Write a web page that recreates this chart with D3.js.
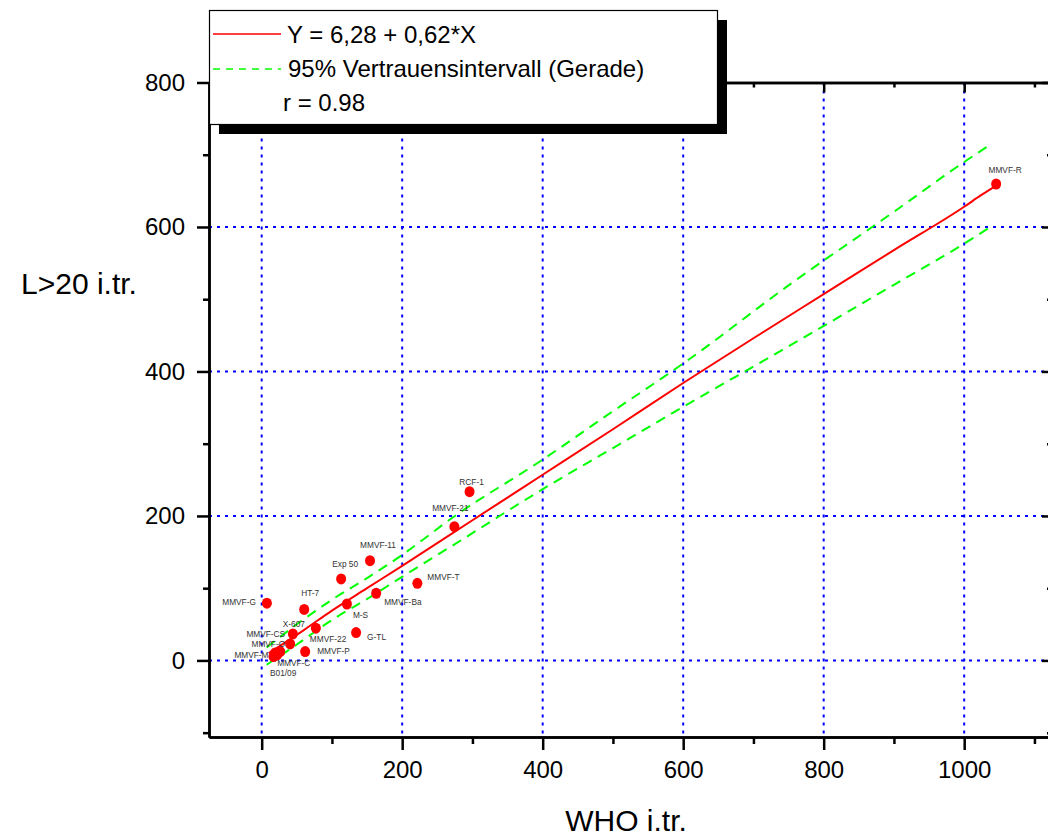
<!DOCTYPE html>
<meta charset="utf-8">
<script src="https://d3js.org/d3.v7.min.js"></script>
<style>
  body { margin: 0; background: #fff; }
  svg { font-family: "Liberation Sans", Arial, sans-serif; }
  .grid line { stroke: #0000ff; stroke-width: 2; stroke-dasharray: 3,5; }
  .axis path, .axis line { stroke: #000; stroke-width: 2.5; }
  .axis text { font-size: 24px; fill: #000; }
  .lbl { font-size: 8.3px; fill: #333; }
</style>
<body>
<div id="chart"></div>
<script>

// measured points (WHO i.tr. vs L>20 i.tr.)
var names = ["MMVF-R", "RCF-1", "MMVF-21", "MMVF-11", "Exp 50", "MMVF-T", "MMVF-Ba", "M-S", "HT-7", "MMVF-G",
             "G-TL", "MMVF-22", "X-607", "MMVF-CS", "MMVF-O", "MMVF-M", "MMVF-C", "B01/09", "MMVF-P"];
var whoVals = [1045.5, 295.9, 274.3, 154.2, 113.1, 221.6, 163.0, 121.3, 60.5, 7.4,
               134.4, 77.1, 44.4, 40.5, 26.3, 16.8, 22.0, 19.2, 61.9];
var lVals = [659.5, 233.6, 185.2, 138.1, 112.8, 106.8, 93.0, 78.1, 70.6, 79.2,
             38.5, 44.6, 36.7, 22.8, 12.2, 5.3, 7.6, 10.4, 12.2];

// fit line as drawn
var fitX = [10, 60, 100, 150, 200, 300, 400, 500, 600, 700, 800, 900, 1000, 1024, 1045];
var fitY = [10, 42, 69, 100, 131, 194, 257, 320, 384, 446, 507, 568, 628, 644, 657];

// confidence band as drawn
var bandX = [7, 50, 100, 150, 197, 275, 400, 500, 600, 754, 900, 1000, 1034];
var upperY = [18, 50, 84, 114, 144, 200, 278, 345, 411, 522, 621, 690, 712];
var lowerY = [-6, 22, 56, 85, 114, 161, 237, 294, 351, 437, 520, 577, 598];

var xMajor = [0, 200, 400, 600, 800, 1000];
var xMinor = [100, 300, 500, 700, 900, 1100];
var yMajor = [0, 200, 400, 600, 800];
var yMinor = [-100, 100, 300, 500, 700];

// label placement: dx, dy (px from point), anchor
var labelPos = [[9, -11, "middle"], [2, -7, "middle"], [-4, -16, "middle"], [8, -13, "middle"], [4, -12, "middle"],
                [10, -3, "start"], [8, 12, "start"], [6, 14, "start"], [6, -13, "middle"], [-11, 2, "end"],
                [11, 7, "start"], [-6, 14, "start"], [1, -7, "middle"], [-5, -7, "end"], [5, -5, "end"],
                [-5, 1, "end"], [0, 11.5, "start"], [8, 23, "middle"], [12, 2, "start"]];

var W = 1048, H = 837;
var pLeft = 209, pRight = 1052, pTop = 82.5, pBottom = 737;

var svg = d3.select("#chart").append("svg")
    .attr("width", W)
    .attr("height", H);

var x = d3.scaleLinear().domain([-75, 1125]).range([pLeft, pRight]);
var y = d3.scaleLinear().domain([-106, 800]).range([pBottom, pTop]);

// grid
var grid = svg.append("g").attr("class", "grid");
grid.selectAll(".vx").data(xMajor).enter().append("line")
    .attr("x1", function(d) { return x(d); }).attr("x2", function(d) { return x(d); })
    .attr("y1", pTop).attr("y2", pBottom);
grid.selectAll(".hy").data(yMajor.slice(0, 4)).enter().append("line")
    .attr("y1", function(d) { return y(d); }).attr("y2", function(d) { return y(d); })
    .attr("x1", pLeft).attr("x2", pRight);

var line = d3.line()
    .x(function(d) { return x(d[0]); })
    .y(function(d) { return y(d[1]); })
    .curve(d3.curveMonotoneX);

svg.append("path")
    .datum(d3.zip(bandX, upperY))
    .attr("d", line)
    .attr("fill", "none").attr("stroke", "#00ff00").attr("stroke-width", 2).attr("stroke-dasharray", "10,7");
svg.append("path")
    .datum(d3.zip(bandX, lowerY))
    .attr("d", line)
    .attr("fill", "none").attr("stroke", "#00ff00").attr("stroke-width", 2).attr("stroke-dasharray", "10,7");
svg.append("path")
    .datum(d3.zip(fitX, fitY))
    .attr("d", line)
    .attr("fill", "none").attr("stroke", "#ff0000").attr("stroke-width", 2);

var pts = names.map(function(n, i) { return {name: n, x: whoVals[i], y: lVals[i], lp: labelPos[i]}; });

svg.append("g").selectAll("ellipse")
  .data(pts).enter().append("ellipse")
    .attr("cx", function(d) { return x(d.x); })
    .attr("cy", function(d) { return y(d.y); })
    .attr("rx", 5).attr("ry", 5.5)
    .attr("fill", "#ff0000");

svg.append("g").selectAll("text")
  .data(pts).enter().append("text")
    .attr("class", "lbl")
    .attr("x", function(d) { return x(d.x) + d.lp[0]; })
    .attr("y", function(d) { return y(d.y) + d.lp[1]; })
    .attr("text-anchor", function(d) { return d.lp[2]; })
    .text(function(d) { return d.name; });

// axes
svg.append("g").attr("class", "axis")
    .attr("transform", "translate(0," + pBottom + ")")
    .call(d3.axisBottom(x).tickValues(xMajor).tickSize(13).tickSizeOuter(0).tickPadding(11).tickFormat(d3.format("d")));
svg.append("g").attr("class", "axis")
    .attr("transform", "translate(0," + pBottom + ")")
    .call(d3.axisBottom(x).tickValues(xMinor).tickSize(7).tickSizeOuter(0).tickFormat(""));
svg.append("g").attr("class", "axis")
    .attr("transform", "translate(" + pLeft + ",0)")
    .call(d3.axisLeft(y).tickValues(yMajor).tickSize(12).tickSizeOuter(0).tickPadding(12).tickFormat(d3.format("d")));
svg.append("g").attr("class", "axis")
    .attr("transform", "translate(" + pLeft + ",0)")
    .call(d3.axisLeft(y).tickValues(yMinor).tickSize(6).tickSizeOuter(0).tickFormat(""));
// top and right: inward ticks, no labels
svg.append("g").attr("class", "axis")
    .attr("transform", "translate(0," + pTop + ")")
    .call(d3.axisBottom(x).tickValues(xMajor).tickSize(10).tickSizeOuter(0).tickFormat(""));
svg.append("g").attr("class", "axis")
    .attr("transform", "translate(0," + pTop + ")")
    .call(d3.axisBottom(x).tickValues(xMinor).tickSize(5).tickSizeOuter(0).tickFormat(""));
svg.append("g").attr("class", "axis")
    .attr("transform", "translate(" + pRight + ",0)")
    .call(d3.axisLeft(y).tickValues(yMajor).tickSize(10).tickSizeOuter(0).tickFormat(""));
svg.append("g").attr("class", "axis")
    .attr("transform", "translate(" + pRight + ",0)")
    .call(d3.axisLeft(y).tickValues(yMinor).tickSize(5).tickSizeOuter(0).tickFormat(""));

// axis titles
svg.append("text")
    .attr("x", 626).attr("y", 831)
    .attr("text-anchor", "middle")
    .style("font-size", "30px")
    .text("WHO i.tr.");
svg.append("text")
    .attr("x", 21).attr("y", 294)
    .style("font-size", "30px")
    .text("L>20 i.tr.");

// legend box with shadow
var lg = svg.append("g");
lg.append("rect").attr("x", 219).attr("y", 20).attr("width", 508).attr("height", 114).attr("fill", "#000");
lg.append("rect").attr("x", 209.5).attr("y", 10.5).attr("width", 508).attr("height", 114)
    .attr("fill", "#fff").attr("stroke", "#000").attr("stroke-width", 1.2);
lg.append("line").attr("x1", 213).attr("x2", 281).attr("y1", 34).attr("y2", 34)
    .attr("stroke", "#ff0000").attr("stroke-width", 1.5);
lg.append("line").attr("x1", 213).attr("x2", 281).attr("y1", 69).attr("y2", 69)
    .attr("stroke", "#00ff00").attr("stroke-width", 1.5).attr("stroke-dasharray", "7,6");
lg.append("text").attr("x", 287).attr("y", 43).style("font-size", "24px").text("Y = 6,28 + 0,62*X");
lg.append("text").attr("x", 288).attr("y", 77).style("font-size", "24px").text("95% Vertrauensintervall (Gerade)");
lg.append("text").attr("x", 283).attr("y", 111).style("font-size", "24px").text("r = 0.98");

</script>
</body>
